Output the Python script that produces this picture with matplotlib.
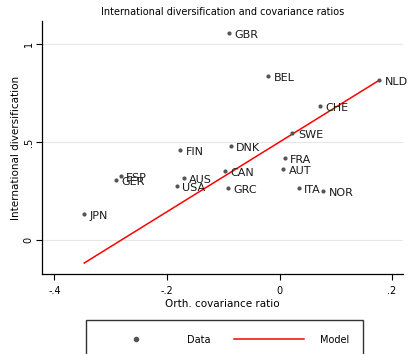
import matplotlib.pyplot as plt
from matplotlib.lines import Line2D

countries = ['GBR', 'BEL', 'NLD', 'CHE', 'SWE', 'FIN', 'DNK', 'FRA', 'AUT', 'CAN',
             'ESP', 'GER', 'AUS', 'USA', 'GRC', 'ITA', 'NOR', 'JPN']
cov_ratio = [-0.090, -0.020, 0.177, 0.072, 0.023, -0.176, -0.087, 0.009, 0.006, -0.097,
             -0.282, -0.290, -0.170, -0.183, -0.092, 0.034, 0.077, -0.347]
divers = [1.056, 0.840, 0.816, 0.685, 0.546, 0.459, 0.483, 0.418, 0.364, 0.354,
          0.328, 0.308, 0.316, 0.279, 0.268, 0.265, 0.251, 0.136]

model_x = [-0.347, 0.177]
model_y = [-0.116, 0.816]

fig = plt.figure(figsize=(4.08, 3.54), dpi=100)
ax = fig.add_axes([0.103, 0.226, 0.885, 0.715])

ax.plot(model_x, model_y, color='red', lw=1.1, zorder=2)
ax.scatter(cov_ratio, divers, s=9, color='#555555', zorder=3, linewidths=0)
for c, x, y in zip(countries, cov_ratio, divers):
    ax.annotate(c, (x, y), xytext=(4, -1.5), textcoords='offset points',
                va='center', ha='left', fontsize=8, color='#1a1a1a')

ax.set_xlim(-0.422, 0.2196)
ax.set_ylim(-0.172, 1.119)
ax.set_xticks([-0.4, -0.2, 0, 0.2])
ax.set_xticklabels(['-.4', '-.2', '0', '.2'])
ax.set_yticks([0, 0.5, 1])
ax.set_yticklabels(['0', '.5', '1'], rotation=90, va='center')
ax.tick_params(labelsize=7, length=4, width=0.8, pad=2)
ax.tick_params(axis='x', pad=5)
ax.grid(axis='y', color='#e6e6e6', lw=0.8)
ax.set_axisbelow(True)
for s in ['top', 'right']:
    ax.spines[s].set_visible(False)
ax.spines['left'].set_linewidth(0.9)
ax.spines['bottom'].set_linewidth(0.9)

ax.set_xlabel('Orth. covariance ratio', fontsize=7.5, labelpad=2)
ax.set_ylabel('International diversification', fontsize=7.5, labelpad=2)
ax.set_title('International diversification and covariance ratios', fontsize=7, pad=4)

handles = [Line2D([], [], marker='o', ls='none', color='#555555', markersize=3),
           Line2D([], [], color='red', lw=1.1)]
fig.legend(handles, ['Data', 'Model'], loc='upper left', bbox_to_anchor=(0.211, 0.096),
           ncol=2, fontsize=7, frameon=True, fancybox=False, edgecolor='black',
           handlelength=7.2, columnspacing=2.4, handletextpad=1.65, borderpad=1.5,
           borderaxespad=0)

fig.savefig('out.png', dpi=100)
